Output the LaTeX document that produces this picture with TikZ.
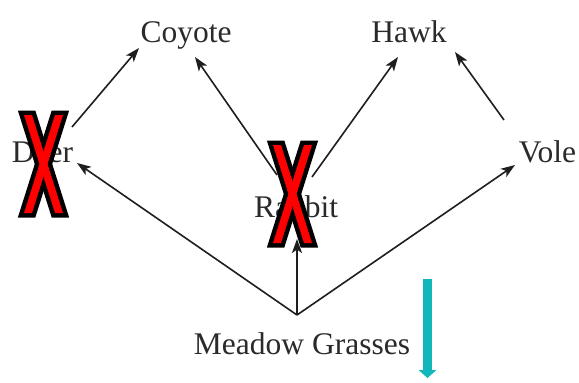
\documentclass[tikz,border=0pt]{standalone}
\usepackage{fontspec}
\setmainfont{Liberation Serif}
\usetikzlibrary{arrows.meta}
\definecolor{inkgray}{HTML}{2A2A2A}
\definecolor{linegray}{HTML}{1E1E1E}
\definecolor{tealarrow}{RGB}{18,183,186}
\newcommand{\redcross}[1]{%
  \begin{scope}[shift={#1}]
    \draw[crossline] (-19.5,-49) -- (-11.5,-49) -- (19.5,49) -- (11.5,49) -- cycle;
    \draw[crossline] (19.5,-49) -- (11.5,-49) -- (-19.5,49) -- (-11.5,49) -- cycle;
    \fill[red] (-19.5,-49) -- (-11.5,-49) -- (19.5,49) -- (11.5,49) -- cycle;
    \fill[red] (19.5,-49) -- (11.5,-49) -- (-19.5,49) -- (-11.5,49) -- cycle;
  \end{scope}}
\begin{document}
\begin{tikzpicture}[x=1pt,y=-1pt,
  label/.style={inner sep=0pt, anchor=base, text=inkgray, font=\fontsize{31.5}{36}\selectfont},
  link/.style={draw=linegray, line width=1.6pt, -{Stealth[length=14pt,width=10pt,inset=3.5pt]}},
  crossline/.style={draw=black, line width=9pt, line join=miter}]
\useasboundingbox (0,0) rectangle (579,383);
\fill[white] (0,0) rectangle (579,383);
\node[label] (coyote) at (186,42) {Coyote};
\node[label] (hawk) at (409,42) {Hawk};
\node[label] (deer) at (42.5,162) {Deer};
\node[label] (rabbit) at (296,217) {Rabbit};
\node[label] (vole) at (547.5,162) {Vole};
\node[label] (grass) at (302,354) {Meadow Grasses};
\draw[link] ([shift={(29.5,-35)}]deer.base) -- ([shift={(-47,6)}]coyote.base);
\draw[link] ([shift={(-19,-42)}]rabbit.base) -- ([shift={(9,15)}]coyote.base);
\draw[link] ([shift={(16,-40)}]rabbit.base) -- ([shift={(-11,15)}]hawk.base);
\draw[link] ([shift={(-43.5,-42)}]vole.base) -- ([shift={(46,10)}]hawk.base);
\draw[link] ([shift={(-5,-39)}]grass.base) -- ([shift={(34.5,1)}]deer.base);
\draw[link] ([shift={(-5,-39)}]grass.base) -- ([shift={(1,22)}]rabbit.base);
\draw[link] ([shift={(-5,-39)}]grass.base) -- ([shift={(-32.5,3)}]vole.base);
\redcross{(43.5,164)}
\redcross{(292.5,194)}
\fill[tealarrow] (423,279) rectangle (432,370);
\fill[tealarrow] (418.5,370) -- (436.5,370) -- (427.5,378) -- cycle;
\end{tikzpicture}
\end{document}
